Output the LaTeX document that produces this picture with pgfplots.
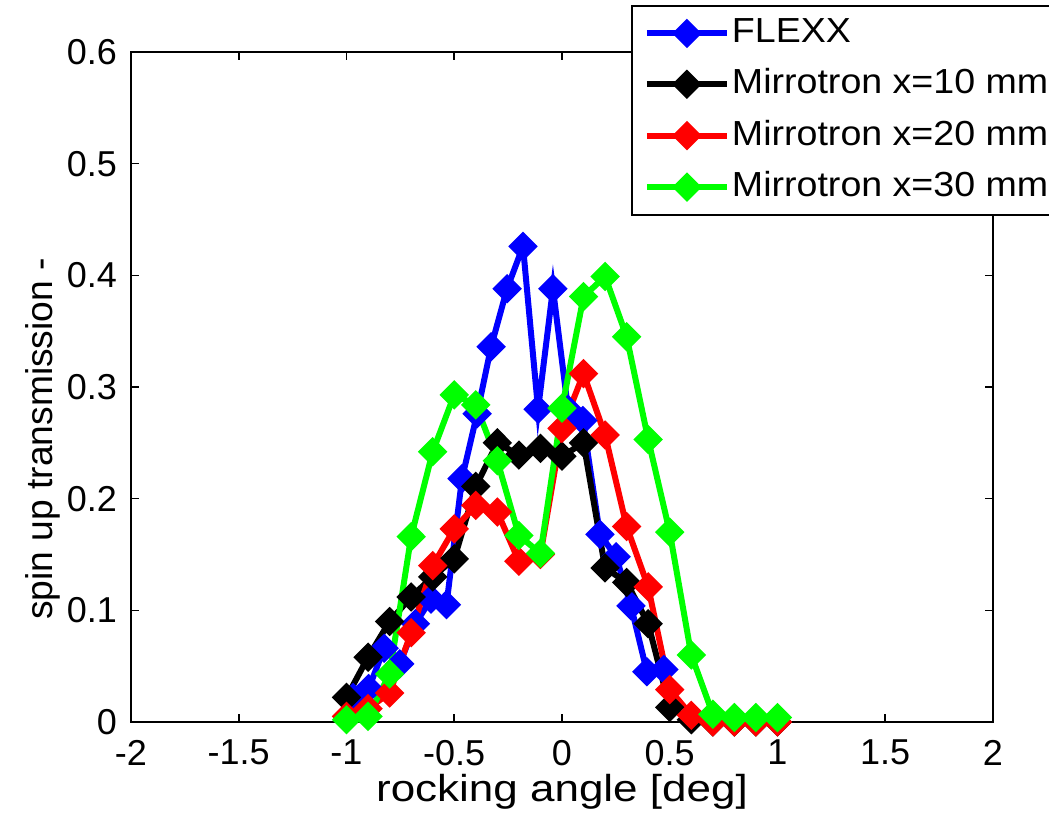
\documentclass[border=0pt]{standalone}
\usepackage{pgfplots}
\pgfplotsset{compat=1.18}
\usepackage{fontspec}
\setmainfont{Liberation Sans}
\newfontfamily\widefont{Liberation Sans}[FakeStretch=1.17]
\newfontfamily\legfont{Liberation Sans}[FakeStretch=1.08]
\definecolor{mblue}{RGB}{0,0,255}
\definecolor{mred}{RGB}{255,0,0}
\definecolor{mgreen}{RGB}{0,255,0}
\begin{document}
\begin{tikzpicture}
\begin{axis}[
  at={(0pt,0pt)}, anchor=south west,
  scale only axis, width=215.5pt, height=167.5pt,
  xmin=-2, xmax=2, ymin=0, ymax=0.6,
  xtick={-2,-1.5,-1,-0.5,0,0.5,1,1.5,2},
  xticklabels={-2,-1.5,-1,-0.5,0,0.5,1,1.5,2},
  ytick={0,0.1,0.2,0.3,0.4,0.5,0.6},
  yticklabels={0,0.1,0.2,0.3,0.4,0.5,0.6},
  tick align=inside, tick pos=both, major tick length=2pt,
  axis line style={line width=0.5pt},
  every tick/.style={black, line width=0.4pt},
  tick label style={font=\fontsize{9}{10}\selectfont},
  xticklabel style={yshift=-1pt},
  xlabel={rocking angle [deg]},
  ylabel={spin up transmission -},
  xlabel style={font=\widefont\fontsize{9.4}{11}\selectfont, at={(axis description cs:0.5,0)}, anchor=base, yshift=-20pt},
  ylabel style={font=\fontsize{9.3}{11}\selectfont, at={(axis description cs:-0.0905,0.4224)}, anchor=base},
  clip=false,
  legend cell align=left,
  legend style={at={(0.580,1.070)}, anchor=north west, draw=black, line width=0.5pt, fill=white,
    font=\legfont\fontsize{8.7}{10}\selectfont, row sep=4.05pt, inner xsep=3pt, inner ysep=2.6pt,
    nodes={inner sep=0.5pt}},
  legend image code/.code={\draw[#1, mark repeat=2, mark phase=2] plot coordinates {(0pt,0pt) (10pt,0pt) (20pt,0pt)};},
  every axis plot/.append style={line width=1.5pt, mark=diamond*, mark size=3.4pt,
     mark options={solid, xscale=1.333, line width=0.4pt}},
]
\addplot[color=mblue] coordinates {
(-0.969,0.022) (-0.897,0.030) (-0.825,0.066) (-0.753,0.052) (-0.680,0.088)
(-0.608,0.110) (-0.536,0.105) (-0.464,0.218) (-0.394,0.276) (-0.329,0.336)
(-0.255,0.388) (-0.181,0.426) (-0.111,0.280) (-0.042,0.388) (0.028,0.280)
(0.097,0.270) (0.176,0.168) (0.251,0.148) (0.320,0.104) (0.394,0.045) (0.473,0.047)
};
\addlegendentry{FLEXX}
\addplot[color=black] coordinates {
(-1.0,0.022) (-0.9,0.058) (-0.8,0.090) (-0.7,0.112) (-0.6,0.130) (-0.5,0.146)
(-0.4,0.211) (-0.3,0.250) (-0.2,0.239) (-0.1,0.245) (0.0,0.238) (0.1,0.250)
(0.2,0.138) (0.3,0.125) (0.4,0.088) (0.5,0.013) (0.6,0.002) (0.7,0.0)
(0.8,0.0) (0.9,0.0) (1.0,0.0)
};
\addlegendentry{Mirrotron x=10 mm}
\addplot[color=mred] coordinates {
(-1.0,0.005) (-0.9,0.012) (-0.8,0.026) (-0.7,0.080) (-0.6,0.140) (-0.5,0.173)
(-0.4,0.194) (-0.3,0.188) (-0.2,0.144) (-0.1,0.150) (0.0,0.263) (0.1,0.312)
(0.2,0.257) (0.3,0.175) (0.4,0.121) (0.5,0.029) (0.6,0.006) (0.7,0.0)
(0.8,0.0) (0.9,0.0) (1.0,0.0)
};
\addlegendentry{Mirrotron x=20 mm}
\addplot[color=mgreen] coordinates {
(-1.0,0.002) (-0.9,0.005) (-0.8,0.043) (-0.7,0.166) (-0.6,0.242) (-0.5,0.293)
(-0.4,0.284) (-0.3,0.234) (-0.2,0.167) (-0.1,0.151) (0.0,0.281) (0.1,0.381)
(0.2,0.399) (0.3,0.345) (0.4,0.253) (0.5,0.170) (0.6,0.060) (0.7,0.007)
(0.8,0.004) (0.9,0.004) (1.0,0.004)
};
\addlegendentry{Mirrotron x=30 mm}
\end{axis}
\pgfresetboundingbox
\path[use as bounding box] (-32.75pt,-25pt) rectangle (229.5pt,180.5pt);
\end{tikzpicture}
\end{document}
